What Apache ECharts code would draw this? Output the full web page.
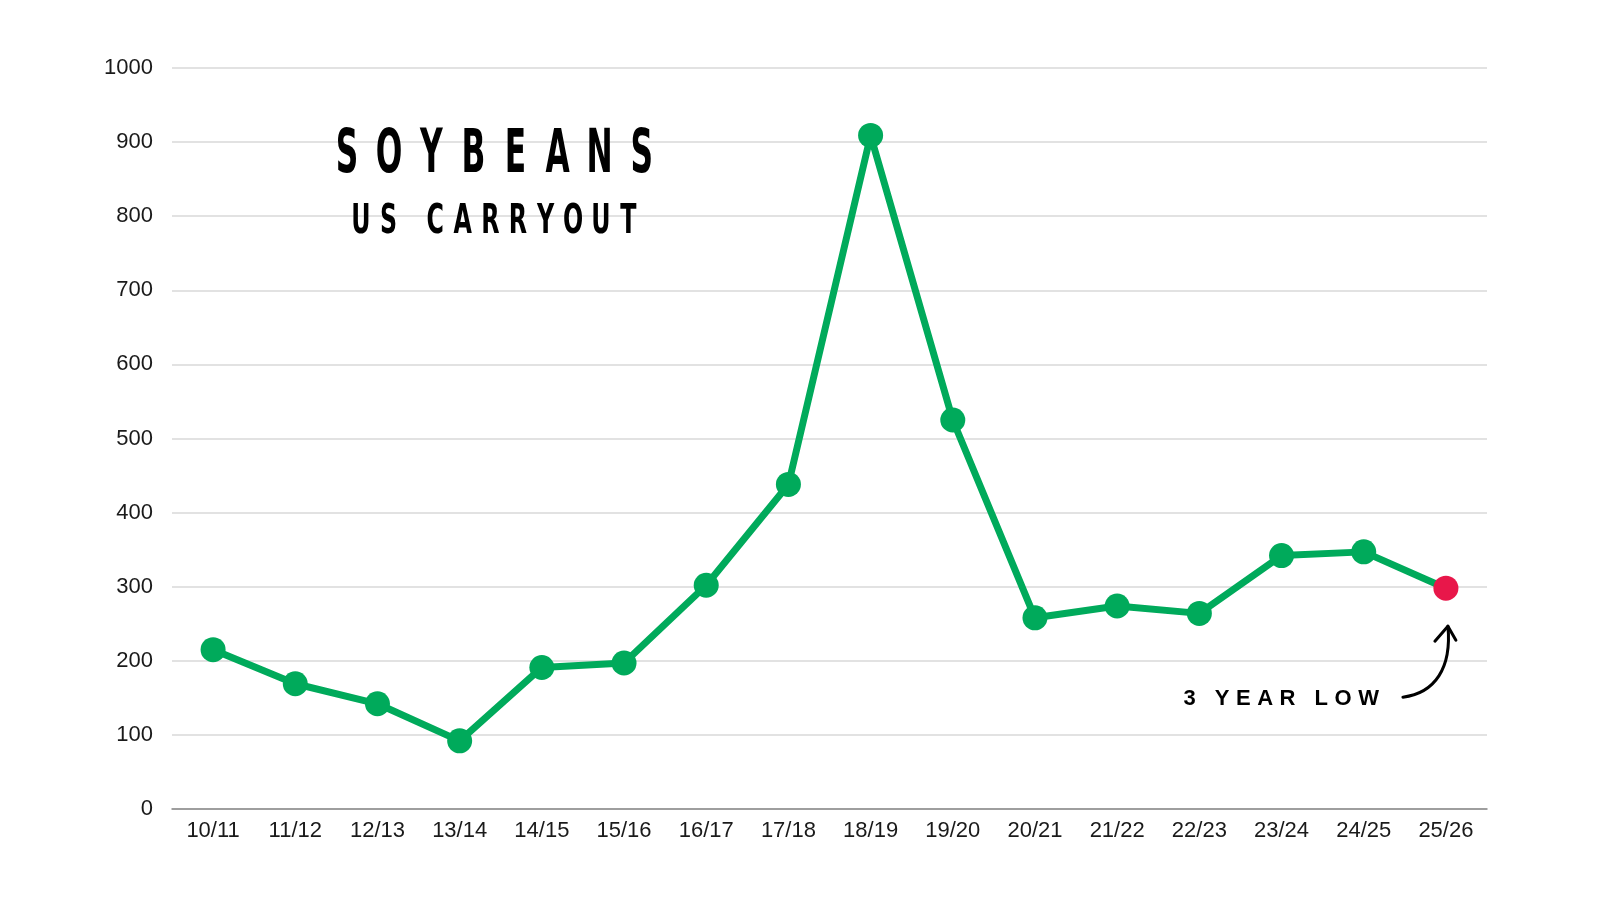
<!DOCTYPE html>
<html><head><meta charset="utf-8">
<script src="https://cdn.jsdelivr.net/npm/echarts@6/dist/echarts.min.js"></script>
<style>html,body{margin:0;padding:0;background:#fff}#c{width:1600px;height:900px}</style>
</head><body><div id="c"></div>
<script>
const categories = ['10/11','11/12','12/13','13/14','14/15','15/16','16/17','17/18','18/19','19/20','20/21','21/22','22/23','23/24','24/25','25/26'];
const carryout = [215,169,142,92,191,197,302,438,909,525,258,274,264,342,347,298];
const yTicks = {min:0, max:1000, interval:100};
const titleText = 'SOYBEANS';
const subtitleText = 'US CARRYOUT';
const noteText = '3 YEAR LOW';

const GREEN = '#00AA5B', RED = '#E8174A';
const chart = echarts.init(document.getElementById('c'));
const data = carryout.map((v,i)=> i===carryout.length-1 ? {value:v, itemStyle:{color:RED}} : v);
chart.setOption({
  animation:false,
  backgroundColor:'#fff',
  grid:{left:172,right:113,top:68,bottom:91},
  xAxis:{type:'category',data:categories,boundaryGap:true,
    axisLine:{lineStyle:{color:'#888',width:1.5}},axisTick:{show:false},
    axisLabel:{color:'#1a1a1a',fontSize:22,fontFamily:'Liberation Sans, Arial, sans-serif',margin:11}},
  yAxis:{type:'value',min:yTicks.min,max:yTicks.max,interval:yTicks.interval,
    axisLine:{show:false},axisTick:{show:false},
    splitLine:{lineStyle:{color:'#d9d9d9',width:1.5}},
    axisLabel:{color:'#1a1a1a',fontSize:22,fontFamily:'Liberation Sans, Arial, sans-serif',margin:19,
      formatter:v=>String(v)}},
  series:[{type:'line',data:data,symbol:'circle',symbolSize:25,
    lineStyle:{color:GREEN,width:7},itemStyle:{color:GREEN},z:3}]
});

// letter-spaced condensed headline letters
function spacedLetters(str, cx0, pitch, wordGap, cy, font, scaleX){
  const out = []; let x = cx0;
  for (const ch of str){
    if (ch === ' '){ x += wordGap; continue; }
    out.push({type:'text', x:x, y:cy, scaleX:scaleX, z:10,
      style:{text:ch, x:0, y:0, align:'center', verticalAlign:'middle', fill:'#000', font:font}});
    x += pitch;
  }
  return out;
}
// letter-spaced text ending at a right edge
const mctx = document.createElement('canvas').getContext('2d');
function trackedText(str, rightX, cy, font, spacing){
  mctx.font = font;
  const widths = [...str].map(c=>mctx.measureText(c).width);
  const total = widths.reduce((a,b)=>a+b,0) + spacing*(widths.length-1);
  let x = rightX - total; const out = [];
  [...str].forEach((c,i)=>{
    if (c !== ' ') out.push({type:'text', z:10, style:{text:c, x:x, y:cy, align:'left', verticalAlign:'middle', fill:'#000', font:font}});
    x += widths[i] + spacing;
  });
  return out;
}

const last = chart.convertToPixel({seriesIndex:0},[categories.length-1, carryout[carryout.length-1]]);
const hx = last[0]+2, hy = last[1]+38;
const tx = hx-45, ty = hy+71;
const headFont = 'bold 61px "DejaVu Sans Condensed", "DejaVu Sans", sans-serif';
const subFont = 'bold 40px "DejaVu Sans Condensed", "DejaVu Sans", sans-serif';
const noteFont = 'bold 22px "Liberation Sans", Arial, sans-serif';
chart.setOption({graphic:[
  ...spacedLetters(titleText, 347, 42.1, 0, 156, headFont, 0.57),
  ...spacedLetters(subtitleText, 361, 27.6, 19, 223, subFont, 0.66),
  ...trackedText(noteText, tx-24, ty+2, noteFont, 6.5),
  {type:'bezierCurve', z:10, shape:{x1:tx, y1:ty, cpx1:tx+32, cpy1:ty-4, cpx2:hx+4, cpy2:hy+42, x2:hx, y2:hy},
    style:{stroke:'#000', lineWidth:3, fill:null, lineCap:'round'}},
  {type:'polyline', z:10, shape:{points:[[hx-13,hy+15],[hx,hy],[hx+8,hy+14]]},
    style:{stroke:'#000', lineWidth:3, fill:null, lineCap:'round', lineJoin:'round'}}
]});
</script></body></html>
